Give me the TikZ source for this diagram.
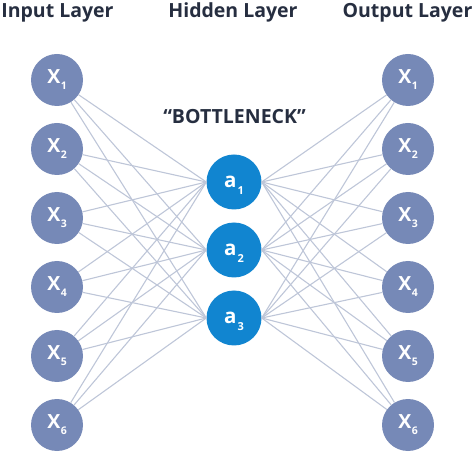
\documentclass[tikz,border=0pt]{standalone}
\usepackage{fontspec}
\setmainfont{Open Sans}
\definecolor{inblue}{RGB}{118,137,183}
\definecolor{hidblue}{RGB}{17,133,208}
\definecolor{edgec}{RGB}{190,198,216}
\definecolor{titlec}{RGB}{38,46,64}
\newcommand\xsub[1]{X\kern0.5pt\raisebox{-6pt}{\fontsize{10.5}{10.5}\selectfont #1}}
\newcommand\asub[1]{\rule{0pt}{19pt}a\kern1pt\raisebox{-7pt}{\fontsize{11}{11}\selectfont #1}}
\begin{document}
\begin{tikzpicture}[x=1pt,y=-1pt,
  unit/.style={circle, fill=inblue, minimum size=52pt, inner sep=0pt, text=white,
    font=\fontsize{19.5}{19.5}\selectfont\bfseries},
  hid/.style={unit, fill=hidblue, minimum size=55pt, font=\fontsize{20.5}{20.5}\selectfont\bfseries},
  conn/.style={draw=edgec, line width=1.1pt},
  title/.style={text=titlec, anchor=base, inner sep=0pt, font=\fontsize{19.5}{19.5}\selectfont\bfseries}]
\useasboundingbox (0,0) rectangle (474,454);
\node[title] (tin) at (57.5,17.3) {Input Layer};
\node[title] (thid) at (233,17.3) {Hidden Layer};
\node[title] (tout) at (407.5,17.3) {Output Layer};
\node[title] (bn) at (234.5,124) {“BOTTLENECK”};
\foreach \i/\yy in {1/80,2/149,3/218,4/287,5/356,6/425}{
  \node[unit] (x\i) at (57,\yy) {\xsub{\i}};
  \node[unit] (y\i) at (408,\yy) {\xsub{\i}};
}
\foreach \j/\yy in {1/182,2/250,3/318}{
  \node[hid] (a\j) at (234,\yy) {\asub{\j}};
}
\foreach \i in {1,...,6}{
  \foreach \j in {1,2,3}{
    \draw[conn] (x\i) -- (a\j.west);
    \draw[conn] (a\j.east) -- (y\i);
  }
}
\end{tikzpicture}
\end{document}
